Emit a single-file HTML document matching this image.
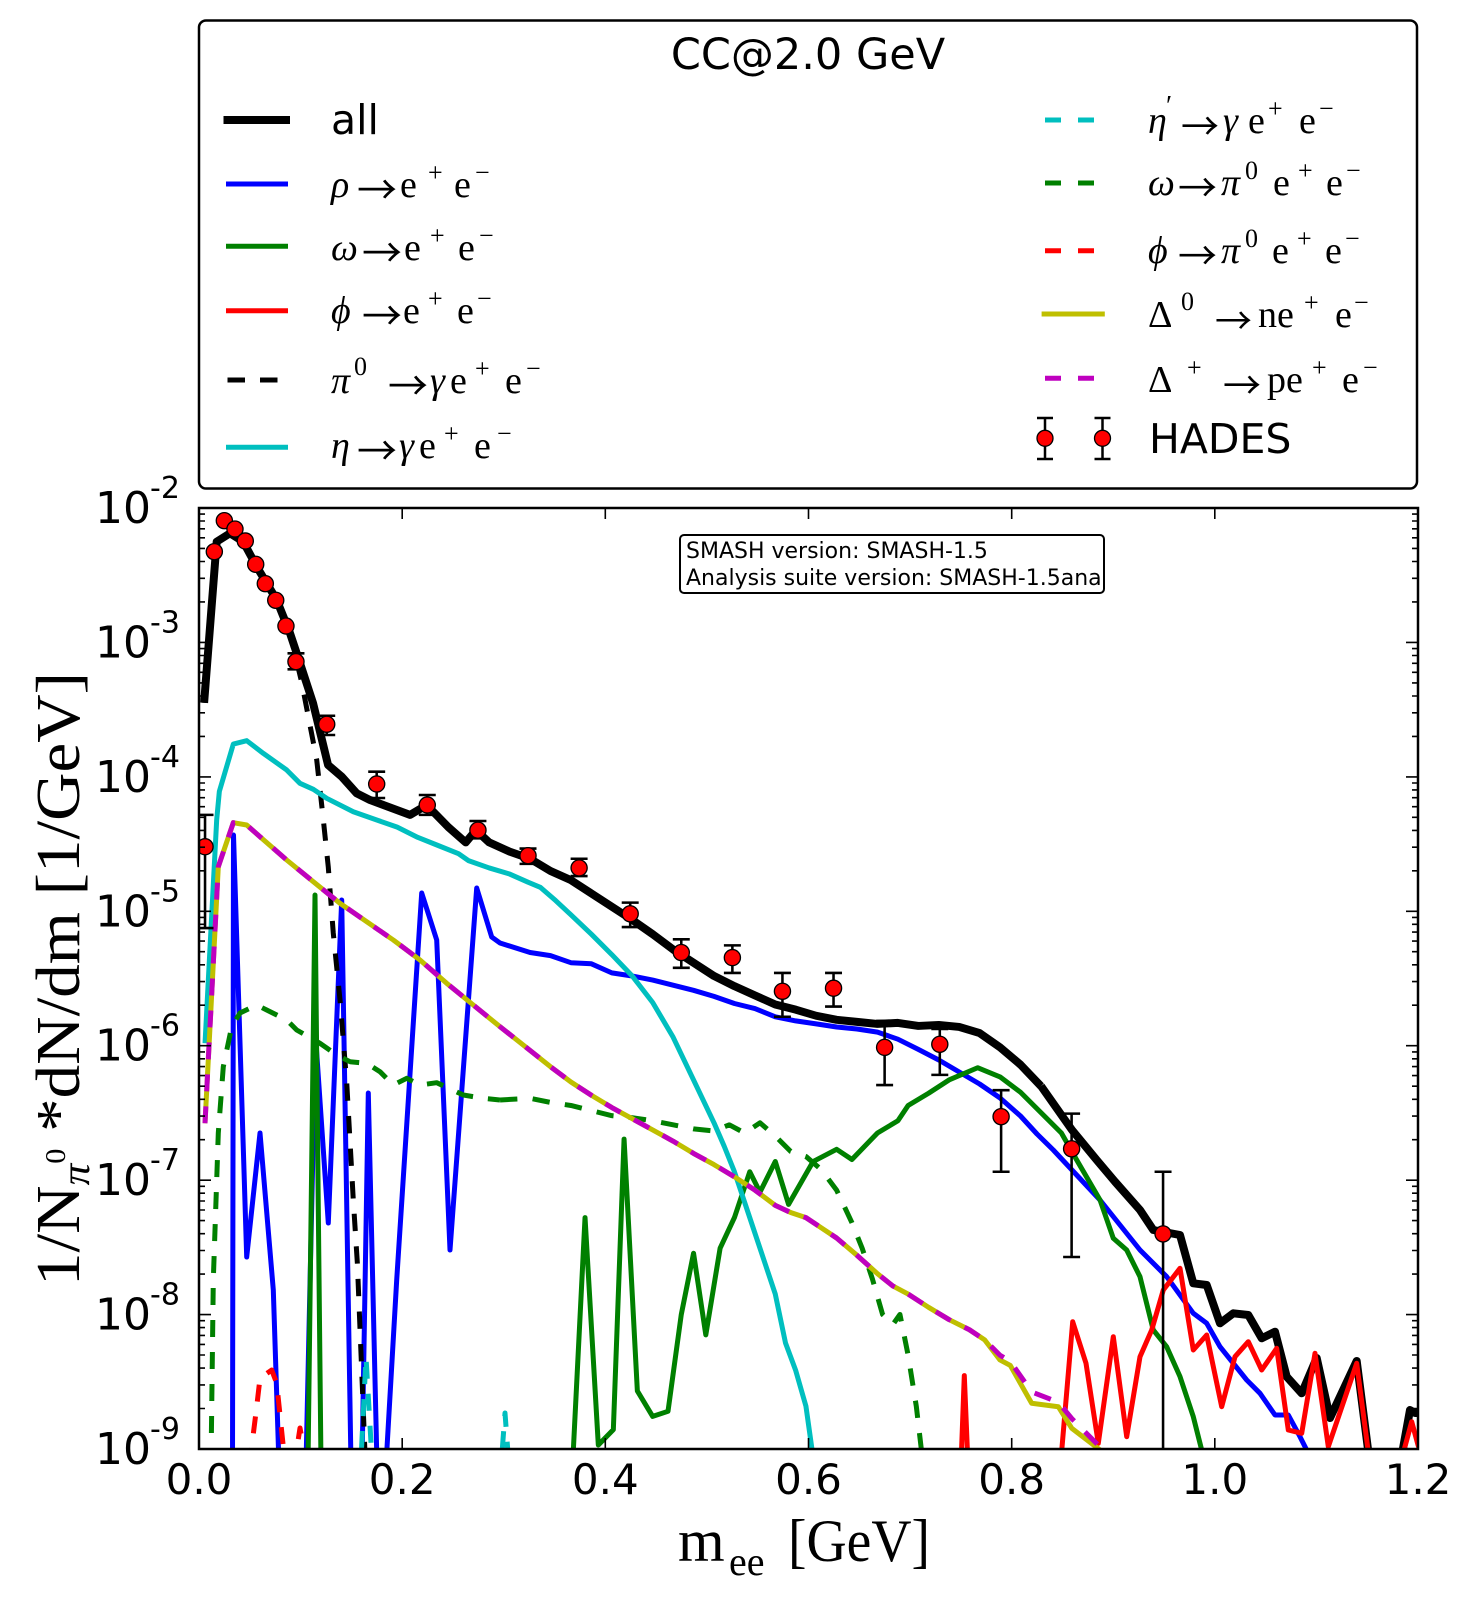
<!DOCTYPE html>
<html><head><meta charset="utf-8"><style>
body{margin:0;background:#fff}
svg{display:block}
.s{font-family:"DejaVu Sans","Liberation Sans",sans-serif}
.m{font-family:"Liberation Serif","DejaVu Serif",serif}
.ar{font-family:"Noto Sans CJK JP","Liberation Serif",serif}
</style></head><body>
<svg width="1468" height="1600" viewBox="0 0 1468 1600" xmlns="http://www.w3.org/2000/svg">
<defs>
<clipPath id="pc"><rect x="199" y="508" width="1219" height="941"/></clipPath>
</defs>
<rect width="1468" height="1600" fill="#fff"/>

<!-- DATA -->
<g clip-path="url(#pc)" fill="none" stroke-linejoin="round">
  <!-- all -->
  <g transform="matrix(1.02179 0 0 1.0195 -1.27 -0.69)">
    <polyline stroke="#000" stroke-width="7.8" points="201,690 213.3,532 226.3,523.8 239.3,532 252.5,556.5 272,589 285,621.6 294.8,651 307.6,690.3 322.3,751 335.7,762.5 350.3,778.8 363.4,785.4 402.5,800 418.8,790.3 440,812 457,827 467,815 480,827 500,836 520,843 540,855 560,864 580,877 600,890 620,903 640,917 660,932 680,945 700,958 720,968 740,977 760,986 780,991 800,997 820,1001 840,1003 860,1005 880,1004 900,1007 920,1006 940,1008 960,1014 980,1028 1000,1045 1020,1066"/>
  </g>
  <polyline stroke="#000" stroke-width="8" points="1041,1086 1072,1130 1096.7,1160 1115,1181.7 1140,1210 1153.3,1230 1180,1235 1193.3,1283.3 1206.7,1285 1220,1323.3 1233.3,1313.3 1248.3,1315 1261.7,1338.3 1275,1331.7 1286.7,1376.7 1301.7,1393.3 1316.7,1358 1330,1418 1356.7,1361 1370,1465 1400,1465 1410,1410 1415,1413 1425,1413"/>

  <!-- rho -->
  <polyline stroke="#0000ff" stroke-width="5" points="232.5,1465 233.5,835 246.7,1257 260,1133 273.3,1290 279,1465 306,1465 315.5,1035 328.3,1223 341.7,900 351,1465 362,1465 368.3,1093 377,1465 386,1465 396.7,1280 421.7,893 436.7,940 450,1250 476.7,888 491.7,937 500,943 530.1,952.5 550.5,955.6 570.9,962.7 591.4,963.8 611.8,972.9 632.2,976 652.7,980.1 673.1,985.2 693.5,990.3 714,996.4 734.4,1003.5 754.9,1008.6 775.3,1016.8 795.7,1020.9 816.2,1023.9 836.6,1027 857,1029 877.5,1032.1 897.9,1039.2 918.3,1049.4 938.8,1060 959.2,1072 979.6,1084 1000.1,1098 1020.5,1116 1037,1134 1053.3,1150 1100,1200 1140,1250 1166.7,1276.7 1193.3,1313.3 1206.7,1323.3 1220,1346.7 1246.7,1380 1260,1393.3 1275,1415 1288.3,1415 1300,1436.7 1311.7,1460"/>

  <!-- omega solid -->
  <polyline stroke="#008000" stroke-width="5" points="308,1465 315,895 321,1465"/>
  <g transform="matrix(1.02179 0 0 1.0195 -1.27 -0.69)">
    <polyline stroke="#008000" stroke-width="4.9" points="562,1430 573.8,1195 586.8,1418 601.5,1403 612,1118 625,1365 640,1390 655,1385 668,1290 680,1230 692,1310 706,1225 720,1195 735,1150 745,1170 760,1140 773,1182 797,1140 820,1128 835,1138 860,1112 880,1100 890,1085 910,1073 930,1060 958,1048 980,1057 1000,1072 1020,1092 1040,1112 1055,1138.5 1077.8,1177.7 1090.8,1215.3 1103.9,1226.8 1116.9,1252.9 1129.9,1305.2 1143,1321.6 1156.1,1351 1169.1,1390.3 1177.3,1422.9 1180,1440"/>
  </g>

  <!-- phi solid -->
  <polyline stroke="#ff0000" stroke-width="5" points="961,1465 964.3,1375.6 968,1465 1060.5,1465 1072.7,1321.7 1086,1363.3 1098.3,1443.3 1113.3,1336.7 1126.7,1436.7 1140,1356.7 1151.7,1330 1163.3,1290 1180,1268.3 1193.3,1350 1206.7,1335 1221.7,1406.7 1235,1356.7 1248.3,1341.7 1261.7,1370 1276.7,1348.3 1288.3,1430 1301.7,1433.3 1315,1353.3 1328.3,1446.7 1356.7,1363.3 1370,1465 1400,1465 1411.7,1421.7 1418,1445 1425,1465"/>

  <g transform="matrix(1.02179 0 0 1.0195 -1.27 -0.69)">
    <!-- pi0 dashed -->
    <polyline stroke="#000" stroke-width="4.9" stroke-dasharray="17 15" points="201,690 213.3,532 226.3,523.8 239.3,532 252.5,556.5 272,589 285,621.6 296.5,670 303,703.6 311.2,746 317.7,805 322.5,850.8 327.4,915.8 334,981.5 340.6,1063 347,1177.7 351,1240 356.5,1376.8 359,1440"/>
    <!-- eta -->
    <polyline stroke="#00bfbf" stroke-width="4.9" points="201.9,1024 213.3,805 215.9,777 229.6,730.5 242.7,727.2 258.9,739.6 281.8,755.9 294.8,769 307.9,774.9 321,783.7 347,796.9 370,805 390,812 410,822 430,830 450,838 460,845 480,852 500,858 518,866 530,871 545,884 560,898 580,917 600,937 620,958 640,984 660,1018 680,1060 700,1102 710,1125 720,1150 730,1180 740,1210 750,1240 760,1270 770,1318 780,1345 790,1380 797,1430"/>
  </g>

  <!-- eta' dashed -->
  <polyline stroke="#00bfbf" stroke-width="5" stroke-dasharray="17 15" points="360,1480 366,1357 372,1460"/>
  <polyline stroke="#00bfbf" stroke-width="5" stroke-dasharray="17 15" points="500,1480 505,1413 510,1480"/>

  <!-- omega -> pi0 dashed -->
  <polyline stroke="#008000" stroke-width="5" stroke-dasharray="17 15" points="211,1465 213.3,1280 218.3,1133 223.3,1066.7 231.7,1026.7 240,1013 256.7,1005 266.7,1010 286.7,1020 296.7,1030 320,1043.3 336.7,1055 350,1061.7 366.7,1063.3 380,1071.7 393.3,1085 406.7,1078.3 420,1085 436.7,1082.7 463.3,1095 483.3,1098.3 500,1100"/>
  <g transform="matrix(1.02179 0 0 1.0195 -1.27 -0.69)">
    <polyline stroke="#008000" stroke-width="4.9" stroke-dasharray="17 15" points="490.6,1079.6 520,1078 540,1082 560,1085 580,1090 600,1095 620,1097 640,1100 660,1104 680,1108 700,1110 715,1104 730,1112 745,1102 760,1115 775,1130 790,1135 805,1148 820,1168 835,1200 845,1225 855,1255 865,1290 875,1300 882,1290 890,1330 898,1380 905,1440"/>
  </g>

  <!-- phi -> pi0 dashed -->
  <polyline stroke="#ff0000" stroke-width="5" stroke-dasharray="17 15" points="249,1465 251.7,1446.7 256.7,1406.7 260,1378.3 271.7,1370 276.7,1383.3 283.3,1446.7 285,1465 292,1480 300,1428 307,1465"/>

  <!-- Delta0 solid -->
  <polyline stroke="#bfbf00" stroke-width="5" points="205,1123.3 218.3,866.7 233.3,822.7 246.7,825 260,836.7 286.7,860 313.3,881.7 340,903.3 366.7,921.7 393.3,940 420,960 446.7,983.3 473.3,1005 500,1026.7"/>
  <g transform="matrix(1.02179 0 0 1.0195 -1.27 -0.69)">
    <polyline stroke="#bfbf00" stroke-width="4.9" points="490.6,1007.7 520,1031 540,1047 560,1062 580,1075 600,1087 620,1098 640,1109 660,1120 680,1132 700,1143 720,1155 740,1168 760,1183 775,1190 790,1195 805,1205 820,1215 840,1232 860,1250 875,1262 890,1270 910,1283 930,1295 950,1305 965,1315 979.9,1334.6 990,1340 1010.9,1377.1 1037,1380.5 1050.1,1401.6 1077.8,1422.9 1085,1440"/>
  </g>
  <!-- Delta+ dashed -->
  <polyline stroke="#bf00bf" stroke-width="5" stroke-dasharray="17 15" points="205,1123.3 218.3,866.7 233.3,822.7 246.7,825 260,836.7 286.7,860 313.3,881.7 340,903.3 366.7,921.7 393.3,940 420,960 446.7,983.3 473.3,1005 500,1026.7"/>
  <g transform="matrix(1.02179 0 0 1.0195 -1.27 -0.69)">
    <polyline stroke="#bf00bf" stroke-width="4.9" stroke-dasharray="17 15" points="490.6,1007.7 520,1031 540,1047 560,1062 580,1075 600,1087 620,1098 640,1109 660,1120 680,1132 700,1143 720,1155 740,1168 760,1183 775,1190 790,1195 805,1205 820,1215 840,1232 860,1250 875,1262 890,1270 910,1283 930,1295 950,1305 965,1315 979.9,1330 990,1336 1010.9,1366 1037,1376 1050.1,1392 1077.8,1420 1085,1440"/>
  </g>

  <!-- HADES -->
  <g transform="matrix(1.02179 0 0 1.0195 -1.27 -0.69)">
    <path stroke="#000" stroke-width="2.5" d="
M201.9 800V911M193.6 800h16.6M193.6 911h16.6
M290.9 641.5V657.2M282.6 641.5h16.6M282.6 657.2h16.6
M321 702.7V721.6M312.7 702.7h16.6M312.7 721.6h16.6
M369.9 757.6V783.4M361.6 757.6h16.6M361.6 783.4h16.6
M419.4 780.5V800M411.1 780.5h16.6M411.1 800h16.6
M469 806V823M460.7 806h16.6M460.7 823h16.6
M518 833V848M509.7 833h16.6M509.7 848h16.6
M568 843V860M559.7 843h16.6M559.7 860h16.6
M618 886V910M609.7 886h16.6M609.7 910h16.6
M668 922V950M659.7 922h16.6M659.7 950h16.6
M718 928V955M709.7 928h16.6M709.7 955h16.6
M767 955V998M758.7 955h16.6M758.7 998h16.6
M817 955V988M808.7 955h16.6M808.7 988h16.6
M867 1002V1065M858.7 1002h16.6M858.7 1065h16.6
M921 1010V1055M912.7 1010h16.6M912.7 1055h16.6
M981 1070V1150M972.7 1070h16.6M972.7 1150h16.6
M1050 1093V1233.6M1041.7 1093h16.6M1041.7 1233.6h16.6
M1139.5 1150V1440M1131.2 1150h16.6"/>
    <g fill="#ff0000" stroke="#000" stroke-width="1.3">
      <circle cx="201.9" cy="831.2" r="7.9"/>
      <circle cx="211" cy="541.8" r="7.9"/>
      <circle cx="220.8" cy="511.4" r="7.9"/>
      <circle cx="231.2" cy="519.6" r="7.9"/>
      <circle cx="241.3" cy="531.3" r="7.9"/>
      <circle cx="251.5" cy="554.2" r="7.9"/>
      <circle cx="260.9" cy="573.2" r="7.9"/>
      <circle cx="271.1" cy="589.5" r="7.9"/>
      <circle cx="281.1" cy="614.7" r="7.9"/>
      <circle cx="290.9" cy="649.7" r="7.9"/>
      <circle cx="321" cy="711.1" r="7.9"/>
      <circle cx="369.9" cy="769.7" r="7.9"/>
      <circle cx="419.4" cy="790.3" r="7.9"/>
      <circle cx="469" cy="815" r="7.9"/>
      <circle cx="518" cy="840" r="7.9"/>
      <circle cx="568" cy="852" r="7.9"/>
      <circle cx="618" cy="897" r="7.9"/>
      <circle cx="668" cy="935" r="7.9"/>
      <circle cx="718" cy="940" r="7.9"/>
      <circle cx="767" cy="973" r="7.9"/>
      <circle cx="817" cy="970" r="7.9"/>
      <circle cx="867" cy="1028" r="7.9"/>
      <circle cx="921" cy="1025" r="7.9"/>
      <circle cx="981" cy="1096" r="7.9"/>
      <circle cx="1050" cy="1127.5" r="7.9"/>
      <circle cx="1139.5" cy="1211" r="7.9"/>
    </g>
  </g>
</g>

<!-- FRAME & TICKS -->
<rect x="199" y="508" width="1219" height="941" fill="none" stroke="#000" stroke-width="2.5"/>
<g id="yt" stroke="#000" stroke-width="1.6" fill="none">
<path d="M199 508h12M199 642.4h12M199 776.9h12M199 911.3h12M199 1045.7h12M199 1180.2h12M199 1314.6h12M199 1449h12"/>
<path d="M199 601.9h6M199 578.3h6M199 561.5h6M199 548.4h6M199 537.8h6M199 528.8h6M199 521h6M199 514.1h6
M199 736.4h6M199 712.8h6M199 696h6M199 682.9h6M199 672.3h6M199 663.3h6M199 655.5h6M199 648.6h6
M199 870.8h6M199 847.2h6M199 830.4h6M199 817.3h6M199 806.7h6M199 797.7h6M199 789.9h6M199 783h6
M199 1005.2h6M199 981.6h6M199 964.8h6M199 951.7h6M199 941.1h6M199 932.1h6M199 924.3h6M199 917.4h6
M199 1139.7h6M199 1116.1h6M199 1099.3h6M199 1086.2h6M199 1075.6h6M199 1066.6h6M199 1058.8h6M199 1051.9h6
M199 1274.1h6M199 1250.5h6M199 1233.7h6M199 1220.6h6M199 1210h6M199 1201h6M199 1193.2h6M199 1186.3h6
M199 1408.5h6M199 1384.9h6M199 1368.1h6M199 1355h6M199 1344.4h6M199 1335.4h6M199 1327.6h6M199 1320.7h6"/>
</g>
<use href="#yt" transform="translate(1617 0) scale(-1 1)"/>
<path stroke="#000" stroke-width="1.6" fill="none" d="M402.2 1449v-11M605.3 1449v-11M808.5 1449v-11M1011.7 1449v-11M1214.8 1449v-11M402.2 508v11M605.3 508v11M808.5 508v11M1011.7 508v11M1214.8 508v11"/>

<!-- Y tick labels -->
<g class="s" fill="#000">
<text x="95" y="523" font-size="44">10</text><text x="150" y="498" font-size="30">-2</text>
<text x="95" y="657.4" font-size="44">10</text><text x="150" y="632.4" font-size="30">-3</text>
<text x="95" y="791.9" font-size="44">10</text><text x="150" y="766.9" font-size="30">-4</text>
<text x="95" y="926.3" font-size="44">10</text><text x="150" y="901.3" font-size="30">-5</text>
<text x="95" y="1060.7" font-size="44">10</text><text x="150" y="1035.7" font-size="30">-6</text>
<text x="95" y="1195.2" font-size="44">10</text><text x="150" y="1170.2" font-size="30">-7</text>
<text x="95" y="1329.6" font-size="44">10</text><text x="150" y="1304.6" font-size="30">-8</text>
<text x="95" y="1464" font-size="44">10</text><text x="150" y="1439" font-size="30">-9</text>
</g>
<!-- X tick labels -->
<g class="s" fill="#000" font-size="42" text-anchor="middle">
<text x="199" y="1494">0.0</text>
<text x="402.2" y="1494">0.2</text>
<text x="605.3" y="1494">0.4</text>
<text x="808.5" y="1494">0.6</text>
<text x="1011.7" y="1494">0.8</text>
<text x="1214.8" y="1494">1.0</text>
<text x="1418" y="1494">1.2</text>
</g>

<!-- Axis labels -->
<g class="m" fill="#000">
<text x="678" y="1561" font-size="60">m</text>
<text x="729" y="1575" font-size="40">ee</text>
<text x="788" y="1561" font-size="60" textLength="142" lengthAdjust="spacingAndGlyphs">[GeV]</text>
<text font-size="62" transform="translate(79 979) rotate(-90)" text-anchor="middle" textLength="614" lengthAdjust="spacingAndGlyphs">1/N<tspan font-size="40" font-style="italic" dy="10">π</tspan><tspan font-size="28" dy="-24">0</tspan><tspan dy="14"> *dN/dm [1/GeV]</tspan></text>
</g>

<!-- Inset info box -->
<rect x="680" y="535" width="424" height="58" rx="4" fill="#fff" stroke="#000" stroke-width="2"/>
<g class="s" font-size="22" fill="#000">
<text x="686" y="558">SMASH version: SMASH-1.5</text>
<text x="686" y="585">Analysis suite version: SMASH-1.5ana</text>
</g>

<!-- LEGEND -->
<rect x="199" y="20.5" width="1218" height="468" rx="7" fill="#fff" stroke="#000" stroke-width="2.5"/>
<text class="s" x="808" y="69" font-size="43" text-anchor="middle">CC@2.0 GeV</text>

<g fill="none">
<line x1="223.5" y1="120" x2="290" y2="120" stroke="#000" stroke-width="8"/>
<line x1="226" y1="184" x2="288" y2="184" stroke="#0000ff" stroke-width="5"/>
<line x1="226" y1="246.3" x2="288" y2="246.3" stroke="#008000" stroke-width="5"/>
<line x1="226" y1="310.7" x2="288" y2="310.7" stroke="#ff0000" stroke-width="5"/>
<line x1="227.5" y1="380" x2="290" y2="380" stroke="#000" stroke-width="5" stroke-dasharray="17.5 15"/>
<line x1="226" y1="447.3" x2="288" y2="447.3" stroke="#00bfbf" stroke-width="5"/>
<line x1="1045" y1="120" x2="1105" y2="120" stroke="#00bfbf" stroke-width="5" stroke-dasharray="16 17"/>
<line x1="1045" y1="183" x2="1105" y2="183" stroke="#008000" stroke-width="5" stroke-dasharray="16 17"/>
<line x1="1045" y1="250.7" x2="1105" y2="250.7" stroke="#ff0000" stroke-width="5" stroke-dasharray="16 17"/>
<line x1="1041.6" y1="314" x2="1104.8" y2="314" stroke="#bfbf00" stroke-width="5"/>
<line x1="1045" y1="378.3" x2="1105" y2="378.3" stroke="#bf00bf" stroke-width="5" stroke-dasharray="16 17"/>
<path stroke="#000" stroke-width="2.5" d="M1045 418V459M1037 418h16M1037 459h16M1102.5 418V459M1094.5 418h16M1094.5 459h16"/>
</g>
<circle cx="1045" cy="438.3" r="8" fill="#ff0000" stroke="#000" stroke-width="1.3"/>
<circle cx="1102.5" cy="438.3" r="8" fill="#ff0000" stroke="#000" stroke-width="1.3"/>

<g class="s" fill="#000" font-size="41">
<text x="331" y="134">all</text>
<text x="1149" y="453">HADES</text>
</g>

<!-- arrows -->
<g class="ar" fill="#000" font-size="40">
<text x="357" y="204">→</text>
<text x="362" y="267">→</text>
<text x="362" y="330">→</text>
<text x="388" y="400">→</text>
<text x="357" y="465">→</text>
<text x="1181" y="140" font-size="38">→</text>
<text x="1178" y="202" font-size="39">→</text>
<text x="1178" y="270" font-size="39">→</text>
<text x="1215" y="334" font-size="37">→</text>
<text x="1223" y="399" font-size="38">→</text>
</g>

<g class="m" fill="#000" font-size="38">
<!-- rho -->
<text y="197"><tspan x="331" font-style="italic">ρ</tspan><tspan x="400">e</tspan><tspan x="428" y="181" font-size="26">+</tspan><tspan x="454" y="197">e</tspan><tspan x="475" y="181" font-size="26">−</tspan></text>
<!-- omega -->
<text y="260"><tspan x="331" font-style="italic">ω</tspan><tspan x="404">e</tspan><tspan x="430" y="244" font-size="26">+</tspan><tspan x="458" y="260">e</tspan><tspan x="479" y="244" font-size="26">−</tspan></text>
<!-- phi -->
<text y="323"><tspan x="331" font-style="italic">ϕ</tspan><tspan x="403">e</tspan><tspan x="428" y="307" font-size="26">+</tspan><tspan x="457" y="323">e</tspan><tspan x="477" y="307" font-size="26">−</tspan></text>
<!-- pi0 -->
<text y="393"><tspan x="331" font-style="italic">π</tspan><tspan x="354" y="375" font-size="26">0</tspan><tspan x="430" y="393" font-style="italic">γ</tspan><tspan x="450">e</tspan><tspan x="475" y="377" font-size="26">+</tspan><tspan x="505" y="393">e</tspan><tspan x="526" y="377" font-size="26">−</tspan></text>
<!-- eta -->
<text y="458"><tspan x="331" font-style="italic">η</tspan><tspan x="399" font-style="italic">γ</tspan><tspan x="419">e</tspan><tspan x="444" y="442" font-size="26">+</tspan><tspan x="474" y="458">e</tspan><tspan x="497" y="442" font-size="26">−</tspan></text>

<!-- eta' -->
<text y="133"><tspan x="1148" font-style="italic">η</tspan><tspan x="1166" y="115" font-size="28">′</tspan><tspan x="1223" y="133" font-style="italic">γ</tspan><tspan x="1248">e</tspan><tspan x="1268" y="117" font-size="26">+</tspan><tspan x="1299" y="133">e</tspan><tspan x="1319" y="117" font-size="26">−</tspan></text>
<!-- omega->pi0 -->
<text y="195"><tspan x="1148" font-style="italic">ω</tspan><tspan x="1221" font-style="italic">π</tspan><tspan x="1245" y="179" font-size="26">0</tspan><tspan x="1273" y="195">e</tspan><tspan x="1298" y="179" font-size="26">+</tspan><tspan x="1326" y="195">e</tspan><tspan x="1346" y="179" font-size="26">−</tspan></text>
<!-- phi->pi0 -->
<text y="263"><tspan x="1148" font-style="italic">ϕ</tspan><tspan x="1221" font-style="italic">π</tspan><tspan x="1245" y="247" font-size="26">0</tspan><tspan x="1272" y="263">e</tspan><tspan x="1297" y="247" font-size="26">+</tspan><tspan x="1325" y="263">e</tspan><tspan x="1345" y="247" font-size="26">−</tspan></text>
<!-- Delta0 -->
<text y="327"><tspan x="1148">Δ</tspan><tspan x="1181" y="310" font-size="26">0</tspan><tspan x="1258" y="327">ne</tspan><tspan x="1304" y="311" font-size="26">+</tspan><tspan x="1335" y="327">e</tspan><tspan x="1354" y="311" font-size="26">−</tspan></text>
<!-- Delta+ -->
<text y="392"><tspan x="1148">Δ</tspan><tspan x="1187" y="376" font-size="26">+</tspan><tspan x="1267" y="392">pe</tspan><tspan x="1312" y="376" font-size="26">+</tspan><tspan x="1342" y="392">e</tspan><tspan x="1363" y="376" font-size="26">−</tspan></text>
</g>
</svg>
</body></html>
